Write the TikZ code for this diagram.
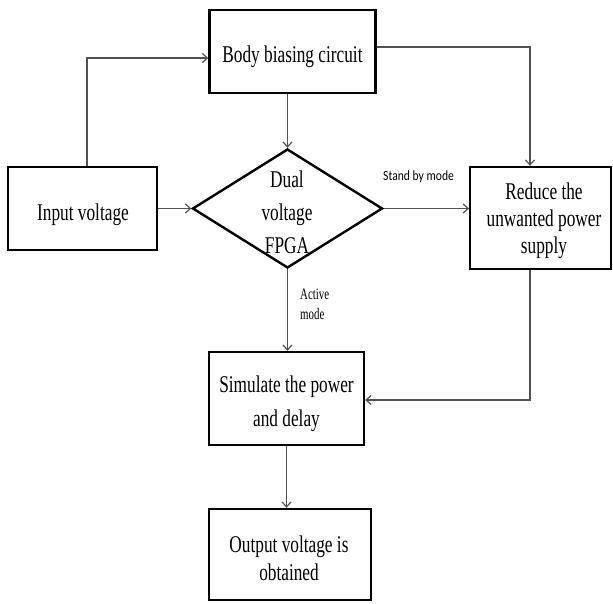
\documentclass[tikz,border=0pt]{standalone}
\usepackage{fontspec}
\setmainfont{Liberation Serif}
\newfontfamily\boxfont[FakeStretch=0.72]{Liberation Serif}
\newfontfamily\lblserif[FakeStretch=0.68]{Liberation Serif}
\newfontfamily\lblsans[FakeStretch=0.83]{Carlito}
\usetikzlibrary{shapes.geometric,arrows.meta}
\newcommand{\mlines}[2]{\begin{tabular}[t]{@{}#1@{}}#2\end{tabular}}
\begin{document}
\begin{tikzpicture}[x=1pt,y=-1pt,
  box/.style={draw=black,line width=2.4pt,rectangle,inner sep=0pt},
  txt/.style={anchor=base,inner sep=0pt,font=\boxfont\fontsize{24}{27}\selectfont},
  lbl/.style={anchor=base west,inner sep=0pt},
  arr/.style={draw=black!68,line width=1.2pt,-{Straight Barb[length=5pt,width=9pt]}}]
\useasboundingbox (0,0) rectangle (613,603);
% shapes
\node[box,minimum width=166pt,minimum height=83pt] (body) at (292.5,51.5) {};
\node[box,minimum width=149pt,minimum height=83pt] (in) at (82.5,208.5) {};
\node[diamond,draw=black,line width=2.4pt,inner sep=0pt,minimum width=190pt,minimum height=119pt] (dia) at (287.5,208.5) {};
\node[box,minimum width=141pt,minimum height=102pt] (red) at (540.75,218) {};
\node[box,minimum width=155pt,minimum height=93pt] (sim) at (286.5,398.5) {};
\node[box,minimum width=162pt,minimum height=91pt] (out) at (290,554.5) {};
% texts
\node[txt] (bodyt) at (292.5,62.7) {Body biasing circuit};
\node[txt] (int) at (83,220) {Input voltage};
\node[txt,font=\boxfont\fontsize{24}{33}\selectfont] (diat) at (287,187) {\mlines{c}{Dual\\voltage\\FPGA}};
\node[txt] (redt) at (544,199.5) {\mlines{c}{Reduce the\\unwanted power\\supply}};
\node[txt,font=\boxfont\fontsize{24}{34}\selectfont] (simt) at (286.5,392) {\mlines{c}{Simulate the power\\and delay}};
\node[txt,font=\boxfont\fontsize{24}{28}\selectfont] (outt) at (289,552) {\mlines{c}{Output voltage is\\obtained}};
% labels
\node[lbl,font=\lblsans\fontsize{14}{16}\selectfont] (sb) at (383,180.5) {Stand by mode};
\node[lbl,font=\lblserif\fontsize{16}{20}\selectfont] (am) at (300,299) {\mlines{l}{Active\\mode}};
% connectors
\draw[arr] ([xshift=4.5pt]in.north) |- ([yshift=-6.5pt]body.west);
\draw[arr] (body.south -| dia.north) -- (dia.north);
\draw[arr] ([yshift=4.5pt]body.east) -| ([xshift=-10.75pt]red.north);
\draw[arr] (in.east) -- (dia.west);
\draw[arr] (dia.east) -- (dia.east -| red.west);
\draw[arr] (dia.south) -- (dia.south |- sim.north);
\draw[arr] ([xshift=-10.75pt]red.south) |- ([yshift=-1.5pt]sim.east);
\draw[arr] (sim.south) -- (sim.south |- out.north);
\end{tikzpicture}
\end{document}
